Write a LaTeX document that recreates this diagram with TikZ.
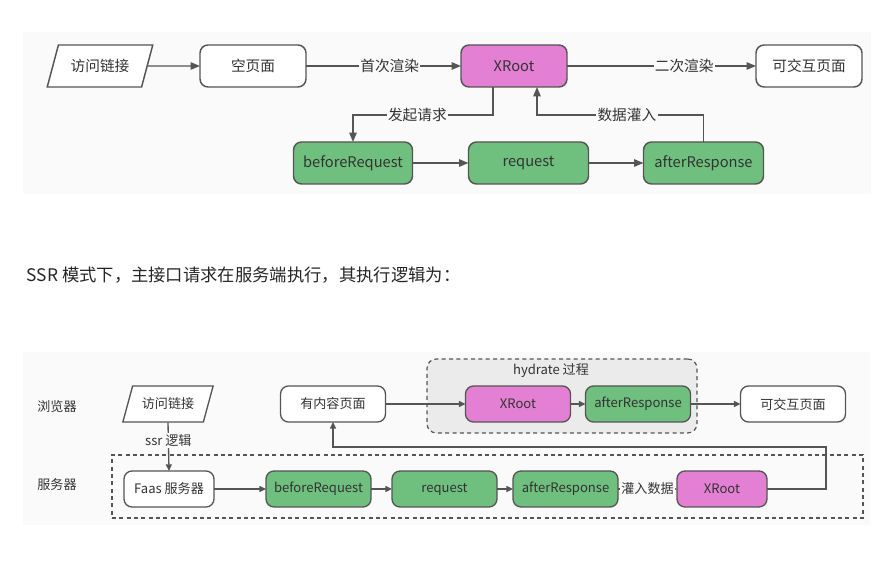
\documentclass[tikz,border=0pt]{standalone}
\usepackage{fontspec}
\setmainfont{Noto Sans CJK SC}
\usetikzlibrary{positioning, shapes.geometric, arrows.meta, backgrounds, fit}
\definecolor{lineGray}{HTML}{555555}
\definecolor{textGray}{HTML}{333333}
\definecolor{paneGray}{HTML}{FAFAFA}
\definecolor{groupGray}{HTML}{EBEBEB}
\definecolor{stepGreen}{HTML}{6FBF7E}
\definecolor{rootPink}{HTML}{E380D3}

\begin{document}
\begin{tikzpicture}[
    x=0.75pt, y=-0.75pt,
    font=\fontsize{11}{13}\selectfont, text=textGray,
    box/.style={rectangle, draw=lineGray, rounded corners=6pt, line width=1.1pt, outer sep=0pt, minimum width=79.5pt, minimum height=31.5pt, align=center, fill=white},
    link/.style={trapezium, trapezium left angle=68, trapezium right angle=112, trapezium stretches=true, draw=lineGray, line width=1.1pt, fill=white, minimum width=79.5pt, minimum height=31.5pt},
    green/.style={fill=stepGreen},
    pink/.style={fill=rootPink},
    small/.style={minimum width=78.75pt, minimum height=27pt, line width=1pt, font=\fontsize{9.8}{12}\selectfont},
    arrow/.style={-{Triangle[length=7pt, width=5.5pt]}, draw=lineGray, line width=1.1pt},
    sarrow/.style={-{Triangle[length=5pt, width=4.5pt]}, draw=lineGray, line width=1pt},
    lbl/.style={fill=paneGray, inner sep=1pt},
    slbl/.style={fill=paneGray, inner sep=1pt, font=\fontsize{9.8}{12}\selectfont},
    dash box/.style={draw=lineGray, line width=0.9pt, dash pattern=on 3pt off 2.5pt}
]
\useasboundingbox (0,0) rectangle (894,570);

% client side rendering
\node[link] (visit) at (100,66) {访问链接};
\node[box] (empty) at (253,66) {空页面};
\node[box, pink, right=116.25pt of empty] (xroot) {XRoot};
\node[box, right=141.75pt of xroot] (page) {可交互页面};
\node[box, green, minimum width=89.25pt] (before) at (353,163) {beforeRequest};
\node[box, green, minimum width=90pt, right=42pt of before] (req) {request};
\node[box, green, minimum width=90pt, right=41.25pt of req] (after) {afterResponse};

\draw[arrow] (visit) -- (empty);
\draw[arrow] (empty) -- node[lbl, pos=0.54] {首次渲染} (xroot);
\draw[arrow] (xroot) -- node[lbl, pos=0.62] {二次渲染} (page);
\draw[arrow] ([xshift=-15.75pt]xroot.south) -- ++(0,28) -| node[lbl, pos=0.27] {发起请求} (before.north);
\draw[arrow] (before) -- (req);
\draw[arrow] (req) -- (after);
\draw[arrow] (after.north) -- ++(0,-27) -| node[lbl, pos=0.23] {数据灌入} ([xshift=17.25pt]xroot.south);

\node[anchor=west, font=\fontsize{13}{15}\selectfont, text=black!85] (ssr) at (22,275) {SSR 模式下，主接口请求在服务端执行，其执行逻辑为：};

% server side rendering
\node[font=\fontsize{9.8}{12}\selectfont] (browser) at (57,407) {浏览器};
\node[font=\fontsize{9.8}{12}\selectfont] (server) at (57,485) {服务器};

\node[link, small, minimum width=68pt] (svisit) at (168,404) {访问链接};
\node[box, small] (content) at (333,404) {有内容页面};
\node[box, small, pink, right=60pt of content] (hroot) {XRoot};
\node[box, small, green, right=11.25pt of hroot] (hafter) {afterResponse};
\node[box, small, right=37.5pt of hafter] (spage) {可交互页面};
\node[font=\fontsize{9.8}{12}\selectfont] (htitle) at (551,371) {hydrate 过程};

\node[box, small, minimum width=67.5pt] (faas) at (169,489) {Faas 服务器};
\node[box, small, green, right=39pt of faas] (sbefore) {beforeRequest};
\node[box, small, green, right=15.75pt of sbefore] (sreq) {request};
\node[box, small, green, right=12pt of sreq] (safter) {afterResponse};
\node[box, small, pink, minimum width=67.5pt, right=44.25pt of safter] (sroot) {XRoot};
\coordinate (turn) at (826,447);

\begin{scope}[on background layer]
  \fill[paneGray] (23,32) rectangle (871,194);
  \fill[paneGray] (23,352) rectangle (870,525);
  \node[dash box, fill=groupGray, rounded corners=7pt, inner sep=0pt, fit={(427,359) (697,433)}] (hydrate) {};
  \node[dash box, inner sep=0pt, fit={(112,455) (863,518)}] (srv) {};
\end{scope}

\draw[sarrow] (svisit.south) -- node[slbl, pos=0.37] {ssr 逻辑} (faas.north);
\draw[sarrow] (content) -- (hroot);
\draw[sarrow] (hroot) -- (hafter);
\draw[sarrow] (hafter) -- (spage);
\draw[sarrow] (faas) -- (sbefore);
\draw[sarrow] (sbefore) -- (sreq);
\draw[sarrow] (sreq) -- (safter);
\draw[sarrow] (safter) -- node[slbl] {灌入数据} (sroot);
\draw[sarrow] (sroot.east) -| (turn) -| (content.south);

\end{tikzpicture}
\end{document}
